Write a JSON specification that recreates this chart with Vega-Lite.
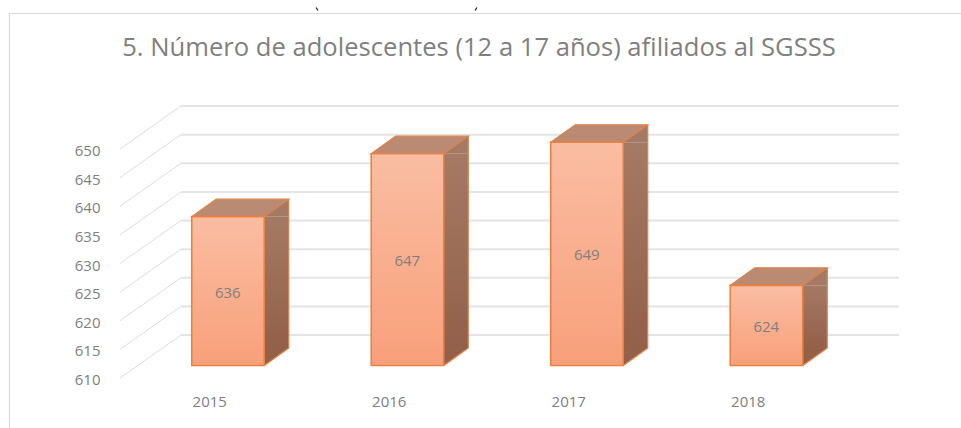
{
"$schema":"https://vega.github.io/schema/vega-lite/v6.json",
"autosize":"none","width":718,"height":229,
"padding":{"left":120,"top":149,"right":123,"bottom":50},
"background":"white",
"config":{"view":{"stroke":null}},
"title":{"text":"5. Número de adolescentes (12 a 17 años) afiliados al SGSSS","font":"Open Sans","fontSize":25.6,"fontWeight":"normal","color":"#7f7f7f","anchor":"middle","frame":"group","offset":-57},
"datasets":{
"bars":[{"year":"2015","value":636},{"year":"2016","value":647},{"year":"2017","value":649},{"year":"2018","value":624}],
"ticks":[{"tick":610},{"tick":615},{"tick":620},{"tick":625},{"tick":630},{"tick":635},{"tick":640},{"tick":645},{"tick":650}]
},
"resolve":{"scale":{"y":"independent"}},
"layer":[
{"data":{"values":[{"frame":"outer"}]},"mark":{"type":"point","shape":"M-469.5 164.5 L-469.5 -250 L482 -250","filled":false,"opacity":1,"size":4,"stroke":"#d9d9d9","strokeWidth":1.2},"encoding":{}},
{"data":{"values":[{"frame":"fragments"}]},"mark":{"type":"point","shape":"M-163 -256 L-161 -253 M-4 -253 L-2 -256","filled":false,"opacity":1,"size":4,"stroke":"#222222","strokeWidth":1.3},"encoding":{}},
{"data":{"name":"ticks"},"mark":{"type":"point","shape":"M-359 0 L-298 -43","filled":false,"opacity":1,"size":4,"stroke":"#dcdcdc","strokeWidth":1},
"encoding":{"y":{"field":"tick","type":"quantitative","scale":{"domain":[610,650]},"title":null,"axis":{"values":[610,615,620,625,630,635,640,645,650],"grid":false,"domain":false,"ticks":false,"labelPadding":20,"labelOffset":1.5,"labelFont":"Open Sans","labelFontSize":15,"labelColor":"#808080"}}}},
{"data":{"name":"ticks"},"mark":{"type":"point","shape":"M-298 -43 L420 -43","filled":false,"opacity":1,"size":4,"stroke":"#e4e4e4","strokeWidth":2},
"encoding":{"y":{"field":"tick","type":"quantitative","scale":{"domain":[610,650]},"axis":null}}},
{"data":{"name":"bars"},"mark":{"type":"bar","width":24.5,"xOffset":66.75,"yOffset":-12.5,"y2Offset":-30,"color":{"gradient":"linear","x1":0,"y1":0,"x2":0,"y2":1,"stops":[{"offset":0,"color":"#a47a64"},{"offset":1,"color":"#93604a"}]}},
"encoding":{"x":{"field":"year","type":"nominal","scale":{"type":"band","paddingInner":0,"paddingOuter":0},"title":null,"axis":{"labelAngle":0,"grid":false,"domain":false,"ticks":false,"labelPadding":16,"labelFont":"Open Sans","labelFontSize":15,"labelColor":"#808080"}},"y":{"field":"value","type":"quantitative","scale":{"domain":[610,650]},"axis":null},"y2":{"datum":610}}},
{"data":{"name":"bars"},"mark":{"type":"point","shape":"M54.5 -12.5 L79 -30 L79 -12.5 Z","filled":true,"opacity":1,"size":4,"color":"#a47a64"},
"encoding":{"x":{"field":"year","type":"nominal"},"y":{"field":"value","type":"quantitative","scale":{"domain":[610,650]},"axis":null}}},
{"data":{"name":"bars"},"mark":{"type":"point","shape":"M54.5 -30 L79 -30 L54.5 -12.5 Z","filled":true,"opacity":1,"size":4,"color":"#93604a"},
"encoding":{"x":{"field":"year","type":"nominal"},"y":{"datum":610,"type":"quantitative","scale":{"domain":[610,650]},"axis":null}}},
{"data":{"name":"bars"},"mark":{"type":"point","shape":"M54.5 -12.5 L79 -30","filled":false,"opacity":1,"size":4,"stroke":"#dd8148","strokeWidth":1.5},
"encoding":{"x":{"field":"year","type":"nominal"},"y":{"datum":610,"type":"quantitative","scale":{"domain":[610,650]},"axis":null}}},
{"data":{"name":"bars"},"mark":{"type":"rule","xOffset":79,"yOffset":-30,"y2Offset":-30,"stroke":"#d68350","strokeWidth":1.2},
"encoding":{"x":{"field":"year","type":"nominal"},"y":{"field":"value","type":"quantitative","scale":{"domain":[610,650]},"axis":null},"y2":{"datum":610}}},
{"data":{"name":"bars"},"mark":{"type":"point","shape":"M-18 -12.5 L54.5 -12.5 L79 -30 L6.5 -30 Z","filled":false,"fill":"#bb8a72","opacity":1,"size":4,"stroke":"#dd8148","strokeWidth":1.2},
"encoding":{"x":{"field":"year","type":"nominal"},"y":{"field":"value","type":"quantitative","scale":{"domain":[610,650]},"axis":null}}},
{"data":{"name":"bars"},"mark":{"type":"bar","width":72.5,"xOffset":18.25,"yOffset":-12.5,"y2Offset":-12.5,"stroke":"#ea8142","strokeWidth":1.6,"color":{"gradient":"linear","x1":0,"y1":0,"x2":0,"y2":1,"stops":[{"offset":0,"color":"#fabda2"},{"offset":1,"color":"#f8a07a"}]}},
"encoding":{"x":{"field":"year","type":"nominal"},"y":{"field":"value","type":"quantitative","scale":{"domain":[610,650]},"axis":null},"y2":{"datum":610}}},
{"data":{"name":"bars"},"mark":{"type":"text","xOffset":18,"yOffset":-11,"font":"Open Sans","fontSize":15,"color":"#7f7f7f"},
"encoding":{"x":{"field":"year","type":"nominal"},"y":{"field":"value","type":"quantitative","scale":{"domain":[610,690]},"axis":null},"text":{"field":"value","type":"quantitative"}}}
]
}
